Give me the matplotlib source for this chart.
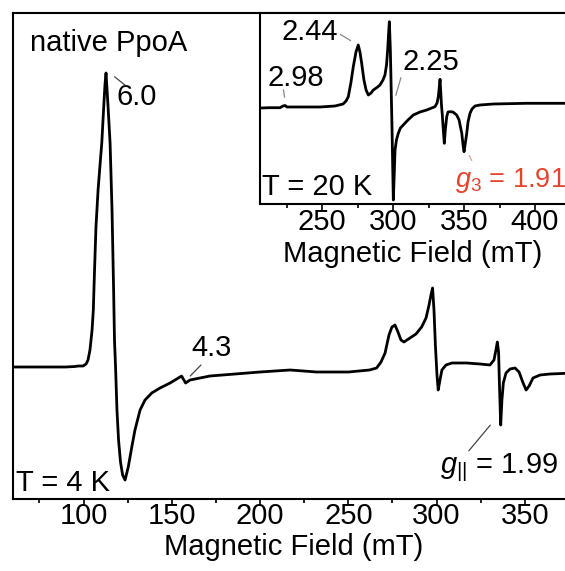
import matplotlib
matplotlib.use("Agg")
import matplotlib.pyplot as plt
from matplotlib.ticker import MultipleLocator

plt.rcParams['font.family'] = ['Liberation Sans', 'DejaVu Sans']
plt.rcParams['mathtext.fontset'] = 'custom'
plt.rcParams['mathtext.rm'] = 'Liberation Sans'
plt.rcParams['mathtext.it'] = 'Liberation Sans:italic'

# ---- Main spectrum, T = 4 K (field in mT, intensity arb. units) ----
main_field = [60, 70, 80, 90, 95, 97, 99.7, 101.4, 102.5, 103.6,
              104.2, 104.8, 105.5, 106.2, 107.0, 108.2, 109.3, 110.3, 111.3, 112.1,
              112.7, 113.8, 115.0, 116.1, 117.0, 117.5, 118.1, 118.9, 119.8, 120.9,
              122.1, 123.5, 125.3, 127.3, 129.1, 132.0, 134.8, 138.6, 143.3, 149.0,
              154.6, 155.5, 157.8, 160.3, 171.6, 185.8, 199.9, 217, 232, 250,
              262, 266, 268.5, 270.8, 273.0, 274.7, 276.4, 278.1, 279.8, 281.5,
              284.9, 288.3, 291.5, 294.0, 295.7, 296.8, 297.7, 298.5, 299.3, 300.2,
              300.9, 301.9, 303.0, 305.3, 308.7, 317.1, 324.6, 330.2, 332.5, 333.6,
              334.4, 335.1, 335.6, 336.3, 337.0, 337.8, 339.3, 341.6, 344.4, 346.7,
              349.0, 350.7, 352.4, 354.6, 358.6, 364.2, 377.9]
main_signal = [1, 1, 1, 1, 1.5, 2, 2, 4, 8, 18,
               28, 38, 58, 98, 141, 178, 203, 225, 258, 283,
               295, 263, 225, 158, 78, 28, 1, -42, -72, -94,
               -107, -112, -99, -79, -62, -42, -32, -25, -20, -15,
               -9, -8, -15, -12, -8, -6, -4, -2, -4, -4,
               -2, 0, 6, 15, 33, 41, 43, 36, 28, 26,
               30, 34, 41, 50, 63, 73, 80, 58, 23, -7,
               -22, -12, -2, 3, 5, 5, 4, 3, 8, 18,
               26, 16, -17, -57, -32, -15, -5, -1, 0, -4,
               -15, -22, -18, -10, -7, -6, -5]

# ---- Inset spectrum, T = 20 K ----
inset_field = [206.3, 213.3, 220.4, 222.5, 223.9, 225.3, 234.5, 248.6, 259.1, 264.8,
               266.9, 268.5, 270.4, 272.0, 273.9, 275.5, 276.7, 277.9, 279.5, 281.0,
               282.6, 284.5, 286.1, 288.7, 290.8, 292.9, 294.3, 295.4, 296.2, 296.8,
               297.4, 298.1, 298.7, 299.3, 299.8, 300.2, 300.7, 301.4, 302.4, 303.7,
               305.2, 307.2, 310.5, 314.3, 319.0, 323.7, 329.5, 331.0, 331.9, 332.5,
               333.1, 333.6, 334.1, 334.7, 335.4, 336.1, 336.8, 337.8, 338.7, 340.1,
               342.2, 344.8, 346.5, 348.4, 349.3, 350.0, 350.7, 351.9, 352.8, 354.2,
               355.6, 357.7, 361.2, 370.6, 394.1, 421.1]
inset_signal = [-1, -0.7, -0.7, 1, 1.5, 0, 0, 0, 1, 3,
                6, 10.3, 25, 40.3, 55, 62, 55, 43.7, 27, 17,
                12, 14, 17, 19.5, 22, 27, 32, 42, 57, 72,
                85.3, 57, 17, -23, -63, -93, -73, -43, -33, -26.3,
                -21, -18, -13, -8, -5, -3, 0.3, 4, 10.3, 19,
                27.7, 15, 2, -8, -23, -36.3, -23, -9.7, -5, -4.7,
                -5, -8, -13, -26.3, -38, -44.7, -38, -26.3, -15, -6.3,
                -2, 1, 2, 3, 3.7, 3.7]

main_ticks = [100, 150, 200, 250, 300, 350]
inset_ticks = [250, 300, 350, 400]
xlabel = "Magnetic Field (mT)"
red = '#e5432b'
FS = 21

fig = plt.figure(figsize=(5.65, 5.71), dpi=100)

ax = fig.add_axes([13/565, 72/571, 561.3/565, 486/571])
ax.plot(main_field, main_signal, color='black', lw=2.0,
        solid_joinstyle='round', solid_capstyle='round')
ax.set_xlim(60, 378)
ax.set_ylim(-131, 355)
ax.set_yticks([])
ax.set_xticks(main_ticks)
ax.xaxis.set_minor_locator(MultipleLocator(25))
ax.tick_params(axis='x', which='major', direction='out', length=4, width=1.2,
               labelsize=FS, pad=-1.5)
ax.tick_params(axis='x', which='minor', direction='out', length=3, width=1.2)
for s in ax.spines.values():
    s.set_linewidth(1.5)
ax.spines['right'].set_visible(False)
ax.set_xlabel(xlabel, fontsize=FS, labelpad=2)

ax.text(69.6, 325, "native PpoA", fontsize=FS, va='center', ha='left')
ax.text(118.9, 271, "6.0", fontsize=FS, va='center', ha='left')
ax.annotate('', xy=(116.3, 293), xytext=(124.8, 281),
            arrowprops=dict(arrowstyle='-', color='#444444', lw=0.9))
ax.text(161.2, 20, "4.3", fontsize=FS, va='center', ha='left')
ax.annotate('', xy=(159.3, -10), xytext=(167.6, 5),
            arrowprops=dict(arrowstyle='-', color='#444444', lw=0.9))
ax.text(61.7, -115, "T = 4 K", fontsize=FS, va='center', ha='left')
ax.text(301.9, -105, r"$g_{||}$ = 1.99", fontsize=FS, va='baseline', ha='left')
ax.annotate('', xy=(331.4, -55), xytext=(317.2, -85),
            arrowprops=dict(arrowstyle='-', color='#444444', lw=0.9))

# ---- Inset ----
ins = fig.add_axes([260/565, 367/571, 305/565, 191/571])
ins.plot(inset_field, inset_signal, color='black', lw=2.0,
         solid_joinstyle='round', solid_capstyle='round')
ins.set_xlim(206.3, 421.1)
ins.set_ylim(-97, 94)
ins.set_yticks([])
ins.set_xticks(inset_ticks)
ins.xaxis.set_minor_locator(MultipleLocator(25))
ins.tick_params(axis='x', which='major', direction='out', length=4, width=1.2,
                labelsize=FS, pad=-1)
ins.tick_params(axis='x', which='minor', direction='out', length=3, width=1.2)
for s in ins.spines.values():
    s.set_linewidth(1.5)
ins.spines['right'].set_visible(False)
ins.set_xlabel(xlabel, fontsize=FS, labelpad=3)

ins.text(221.6, 75.3, "2.44", fontsize=FS, va='center', ha='left')
ins.annotate('', xy=(261.2, 74), xytext=(271.8, 65),
             arrowprops=dict(arrowstyle='-', color='#888888', lw=0.9))
ins.text(211.9, 29, "2.98", fontsize=FS, va='center', ha='left')
ins.annotate('', xy=(222.5, 20), xytext=(223.9, 7),
             arrowprops=dict(arrowstyle='-', color='#888888', lw=0.9))
ins.text(306.8, 45.3, "2.25", fontsize=FS, va='center', ha='left')
ins.annotate('', xy=(306.1, 32), xytext=(301.4, 9),
             arrowprops=dict(arrowstyle='-', color='#888888', lw=0.9))
ins.text(207.7, -79.7, "T = 20 K", fontsize=FS, va='center', ha='left')
ins.text(343.6, -79.7, r"$g_{3}$ = 1.91", fontsize=19.5, va='baseline', ha='left', color=red)
ins.annotate('', xy=(352.8, -46), xytext=(356.3, -56),
             arrowprops=dict(arrowstyle='-', color='#f0a090', lw=0.9))

fig.savefig("out.png", dpi=100)
